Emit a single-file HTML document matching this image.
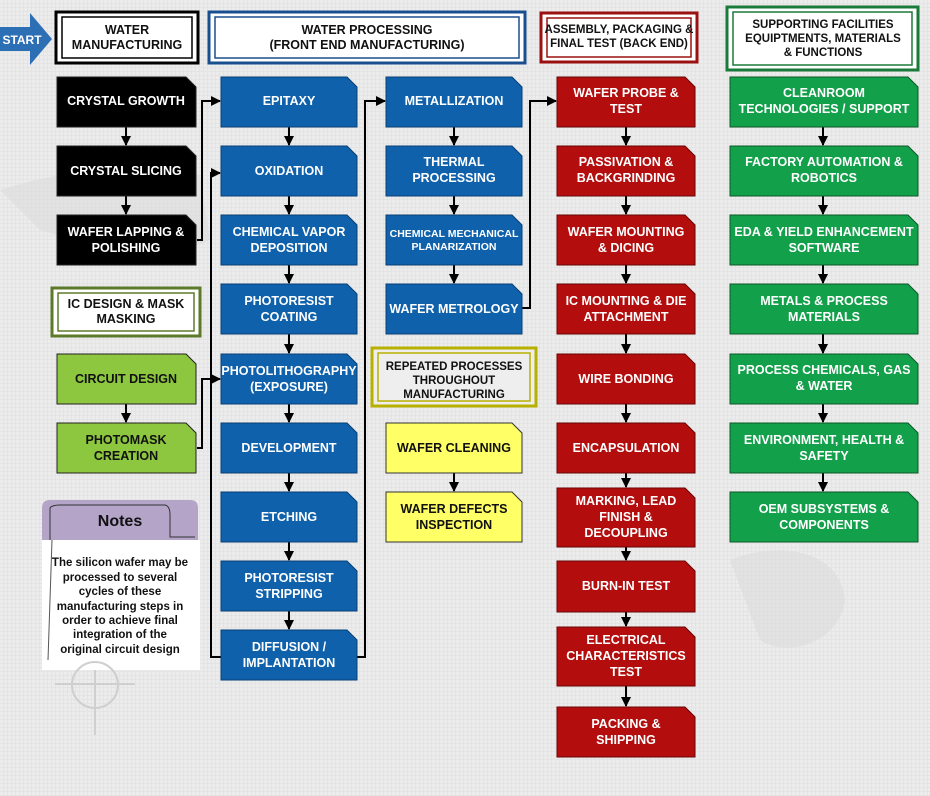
<!DOCTYPE html>
<html><head><meta charset="utf-8"><style>
html,body{margin:0;padding:0;width:930px;height:796px;overflow:hidden;background:#e6e6e6;}
svg{display:block;}
text{font-family:"Liberation Sans","DejaVu Sans",sans-serif;font-weight:bold;text-anchor:middle;}
.w{fill:#fff;font-size:12.5px;}
.k{fill:#111;font-size:12.5px;}
</style></head><body>
<svg width="930" height="796" viewBox="0 0 930 796" xmlns="http://www.w3.org/2000/svg">
<defs>
<pattern id="g" width="4" height="4" patternUnits="userSpaceOnUse"><rect width="4" height="4" fill="#e4e4e4"/><rect width="3" height="3" fill="#ececec"/></pattern>
<marker id="a" viewBox="0 0 10 10" refX="9" refY="5" markerWidth="5" markerHeight="5" orient="auto"><path d="M0,0 L10,5 L0,10 z" fill="#000"/></marker>
</defs>
<rect width="930" height="796" fill="url(#g)"/>
<g fill="#dcdcdc" opacity="0.6">
<path d="M0,190 C60,170 150,160 200,175 L210,240 C170,260 110,250 40,230 Z"/>
<path d="M730,560 C780,540 840,550 845,600 C840,640 790,660 760,640 Z"/>
</g>
<!-- START arrow -->
<path d="M0,27 L30,27 L30,13 L52,39 L30,65 L30,51 L0,51 Z" fill="#2d6fb5"/>
<text x="22" y="44" style="fill:#fff;font-size:12px">START</text>
<!-- headers -->
<g fill="#fff">
<rect x="56" y="12" width="142" height="51" stroke="#000" stroke-width="3"/>
<rect x="62" y="17" width="130" height="41" fill="none" stroke="#000" stroke-width="1.5"/>
<rect x="209" y="12" width="316" height="51" stroke="#1a4f8f" stroke-width="3"/>
<rect x="215" y="17" width="304" height="41" fill="none" stroke="#1a4f8f" stroke-width="1.5"/>
<rect x="541" y="13" width="156" height="49" stroke="#9b1010" stroke-width="3"/>
<rect x="547" y="18" width="144" height="39" fill="none" stroke="#9b1010" stroke-width="1.5"/>
<rect x="727" y="7" width="191" height="63" stroke="#1a7a3a" stroke-width="3"/>
<rect x="733" y="12" width="179" height="53" fill="none" stroke="#1a7a3a" stroke-width="1.5"/>
<rect x="52" y="288" width="148" height="48" stroke="#5d7a2a" stroke-width="3"/>
<rect x="58" y="293" width="136" height="38" fill="none" stroke="#5d7a2a" stroke-width="1.5"/>
<rect x="372" y="348" width="164" height="58" stroke="#b8b000" stroke-width="3" fill="#eeeeee"/>
<rect x="378" y="353" width="152" height="48" fill="none" stroke="#b8b000" stroke-width="1.5"/>
</g>
<text class="k" x="127" y="34">WATER</text>
<text class="k" x="127" y="49">MANUFACTURING</text>
<text class="k" x="367" y="34">WATER PROCESSING</text>
<text class="k" x="367" y="49">(FRONT END MANUFACTURING)</text>
<text class="k" x="619" y="33" style="font-size:11.5px">ASSEMBLY, PACKAGING &amp;</text>
<text class="k" x="619" y="47" style="font-size:11.5px">FINAL TEST (BACK END)</text>
<text class="k" x="823" y="28" style="font-size:11.5px">SUPPORTING FACILITIES</text>
<text class="k" x="823" y="42" style="font-size:11.5px">EQUIPTMENTS, MATERIALS</text>
<text class="k" x="823" y="56" style="font-size:11.5px">&amp; FUNCTIONS</text>
<text class="k" x="126" y="308">IC DESIGN &amp; MASK</text>
<text class="k" x="126" y="323">MASKING</text>
<text class="k" x="454" y="370" style="font-size:11.5px">REPEATED PROCESSES</text>
<text class="k" x="454" y="384" style="font-size:11.5px">THROUGHOUT</text>
<text class="k" x="454" y="398" style="font-size:11.5px">MANUFACTURING</text>

<g stroke="#000" stroke-width="2" fill="none">
<line x1="126" y1="127" x2="126" y2="145" marker-end="url(#a)"/>
<line x1="126" y1="196" x2="126" y2="214" marker-end="url(#a)"/>
<line x1="126" y1="404" x2="126" y2="422" marker-end="url(#a)"/>
<polyline points="197,240 202,240 202,101 220,101" marker-end="url(#a)"/>
<polyline points="221,657 211,657 211,173 220,173" marker-end="url(#a)"/>
<polyline points="197,448 202,448 202,379 220,379" marker-end="url(#a)"/>
<line x1="289" y1="127" x2="289" y2="145" marker-end="url(#a)"/>
<line x1="289" y1="196" x2="289" y2="214" marker-end="url(#a)"/>
<line x1="289" y1="265" x2="289" y2="283" marker-end="url(#a)"/>
<line x1="289" y1="334" x2="289" y2="353" marker-end="url(#a)"/>
<line x1="289" y1="404" x2="289" y2="422" marker-end="url(#a)"/>
<line x1="289" y1="473" x2="289" y2="491" marker-end="url(#a)"/>
<line x1="289" y1="542" x2="289" y2="560" marker-end="url(#a)"/>
<line x1="289" y1="611" x2="289" y2="629" marker-end="url(#a)"/>
<polyline points="357,657 365,657 365,101 385,101" marker-end="url(#a)"/>
<line x1="454" y1="127" x2="454" y2="145" marker-end="url(#a)"/>
<line x1="454" y1="196" x2="454" y2="214" marker-end="url(#a)"/>
<line x1="454" y1="265" x2="454" y2="283" marker-end="url(#a)"/>
<line x1="454" y1="473" x2="454" y2="491" marker-end="url(#a)"/>
<polyline points="522,308 530,308 530,101 556,101" marker-end="url(#a)"/>
<line x1="626" y1="127" x2="626" y2="145" marker-end="url(#a)"/>
<line x1="626" y1="196" x2="626" y2="214" marker-end="url(#a)"/>
<line x1="626" y1="265" x2="626" y2="283" marker-end="url(#a)"/>
<line x1="626" y1="334" x2="626" y2="353" marker-end="url(#a)"/>
<line x1="626" y1="404" x2="626" y2="422" marker-end="url(#a)"/>
<line x1="626" y1="473" x2="626" y2="487" marker-end="url(#a)"/>
<line x1="626" y1="547" x2="626" y2="560" marker-end="url(#a)"/>
<line x1="626" y1="612" x2="626" y2="626" marker-end="url(#a)"/>
<line x1="626" y1="686" x2="626" y2="706" marker-end="url(#a)"/>
<line x1="823" y1="127" x2="823" y2="145" marker-end="url(#a)"/>
<line x1="823" y1="196" x2="823" y2="214" marker-end="url(#a)"/>
<line x1="823" y1="265" x2="823" y2="283" marker-end="url(#a)"/>
<line x1="823" y1="334" x2="823" y2="353" marker-end="url(#a)"/>
<line x1="823" y1="404" x2="823" y2="422" marker-end="url(#a)"/>
<line x1="823" y1="473" x2="823" y2="491" marker-end="url(#a)"/>
</g>

<g stroke="#222" stroke-width="1">
<polygon fill="#000" points="57,77 186,77 196,87 196,127 57,127"/>
<polygon fill="#000" points="57,146 186,146 196,156 196,196 57,196"/>
<polygon fill="#000" points="57,215 186,215 196,225 196,265 57,265"/>
<polygon fill="#8dc63f" points="57,354 186,354 196,364 196,404 57,404"/>
<polygon fill="#8dc63f" points="57,423 186,423 196,433 196,473 57,473"/>
</g>
<text class="w" x="126" y="105">CRYSTAL GROWTH</text>
<text class="w" x="126" y="175">CRYSTAL SLICING</text>
<text class="w" x="126" y="236">WAFER LAPPING &amp;</text>
<text class="w" x="126" y="252">POLISHING</text>
<text class="k" x="126" y="383">CIRCUIT DESIGN</text>
<text class="k" x="126" y="444">PHOTOMASK</text>
<text class="k" x="126" y="460">CREATION</text>

<path d="M42,540 L42,508 Q42,500 50,500 L190,500 Q198,500 198,508 L198,540 Z" fill="#b3a4c8"/>
<path d="M50,540 L50,508 Q52,505 60,505 L165,505 Q170,506 170,515 L170,537 L195,537" fill="none" stroke="#333" stroke-width="1"/>
<rect x="42" y="540" width="158" height="130" fill="#fff"/>
<path d="M52,540 L48,660" stroke="#555" stroke-width="1" fill="none"/>
<text x="120" y="526" style="font-size:16px;fill:#111">Notes</text>
<g style="font-size:11.5px;fill:#111">
<text x="120" y="566">The silicon wafer may be</text>
<text x="120" y="581">processed to several</text>
<text x="120" y="595">cycles of these</text>
<text x="120" y="610">manufacturing steps in</text>
<text x="120" y="624">order to achieve final</text>
<text x="120" y="638">integration of the</text>
<text x="120" y="653">original circuit design</text>
</g>

<g fill="#0f61ab" stroke="#0a3f73" stroke-width="1">
<polygon points="221,77 347,77 357,87 357,127 221,127"/>
<polygon points="221,146 347,146 357,156 357,196 221,196"/>
<polygon points="221,215 347,215 357,225 357,265 221,265"/>
<polygon points="221,284 347,284 357,294 357,334 221,334"/>
<polygon points="221,354 347,354 357,364 357,404 221,404"/>
<polygon points="221,423 347,423 357,433 357,473 221,473"/>
<polygon points="221,492 347,492 357,502 357,542 221,542"/>
<polygon points="221,561 347,561 357,571 357,611 221,611"/>
<polygon points="221,630 347,630 357,640 357,680 221,680"/>
<polygon points="386,77 512,77 522,87 522,127 386,127"/>
<polygon points="386,146 512,146 522,156 522,196 386,196"/>
<polygon points="386,215 512,215 522,225 522,265 386,265"/>
<polygon points="386,284 512,284 522,294 522,334 386,334"/>
</g>
<text class="w" x="289" y="105">EPITAXY</text>
<text class="w" x="289" y="175">OXIDATION</text>
<text class="w" x="289" y="236">CHEMICAL VAPOR</text>
<text class="w" x="289" y="252">DEPOSITION</text>
<text class="w" x="289" y="305">PHOTORESIST</text>
<text class="w" x="289" y="321">COATING</text>
<text class="w" x="289" y="375">PHOTOLITHOGRAPHY</text>
<text class="w" x="289" y="391">(EXPOSURE)</text>
<text class="w" x="289" y="452">DEVELOPMENT</text>
<text class="w" x="289" y="521">ETCHING</text>
<text class="w" x="289" y="582">PHOTORESIST</text>
<text class="w" x="289" y="598">STRIPPING</text>
<text class="w" x="289" y="651">DIFFUSION /</text>
<text class="w" x="289" y="667">IMPLANTATION</text>
<text class="w" x="454" y="105">METALLIZATION</text>
<text class="w" x="454" y="166">THERMAL</text>
<text class="w" x="454" y="182">PROCESSING</text>
<text class="w" x="454" y="237" style="font-size:10.5px">CHEMICAL MECHANICAL</text>
<text class="w" x="454" y="250" style="font-size:10.5px">PLANARIZATION</text>
<text class="w" x="454" y="313">WAFER METROLOGY</text>
<g fill="#ffff66" stroke="#333" stroke-width="1">
<polygon points="386,423 512,423 522,433 522,473 386,473"/>
<polygon points="386,492 512,492 522,502 522,542 386,542"/>
</g>
<text class="k" x="454" y="452">WAFER CLEANING</text>
<text class="k" x="454" y="513">WAFER DEFECTS</text>
<text class="k" x="454" y="529">INSPECTION</text>

<g fill="#b30d0d" stroke="#6a0505" stroke-width="1">
<polygon points="557,77 685,77 695,87 695,127 557,127"/>
<polygon points="557,146 685,146 695,156 695,196 557,196"/>
<polygon points="557,215 685,215 695,225 695,265 557,265"/>
<polygon points="557,284 685,284 695,294 695,334 557,334"/>
<polygon points="557,354 685,354 695,364 695,404 557,404"/>
<polygon points="557,423 685,423 695,433 695,473 557,473"/>
<polygon points="557,488 685,488 695,498 695,547 557,547"/>
<polygon points="557,561 685,561 695,571 695,612 557,612"/>
<polygon points="557,627 685,627 695,637 695,686 557,686"/>
<polygon points="557,707 685,707 695,717 695,757 557,757"/>
</g>
<text class="w" x="626" y="97">WAFER PROBE &amp;</text>
<text class="w" x="626" y="113">TEST</text>
<text class="w" x="626" y="166">PASSIVATION &amp;</text>
<text class="w" x="626" y="182">BACKGRINDING</text>
<text class="w" x="626" y="236">WAFER MOUNTING</text>
<text class="w" x="626" y="252">&amp; DICING</text>
<text class="w" x="626" y="305">IC MOUNTING &amp; DIE</text>
<text class="w" x="626" y="321">ATTACHMENT</text>
<text class="w" x="626" y="383">WIRE BONDING</text>
<text class="w" x="626" y="452">ENCAPSULATION</text>
<text class="w" x="626" y="505">MARKING, LEAD</text>
<text class="w" x="626" y="521">FINISH &amp;</text>
<text class="w" x="626" y="537">DECOUPLING</text>
<text class="w" x="626" y="590">BURN-IN TEST</text>
<text class="w" x="626" y="644">ELECTRICAL</text>
<text class="w" x="626" y="660">CHARACTERISTICS</text>
<text class="w" x="626" y="676">TEST</text>
<text class="w" x="626" y="728">PACKING &amp;</text>
<text class="w" x="626" y="744">SHIPPING</text>

<g fill="#13a04a" stroke="#0b5a28" stroke-width="1">
<polygon points="730,77 908,77 918,87 918,127 730,127"/>
<polygon points="730,146 908,146 918,156 918,196 730,196"/>
<polygon points="730,215 908,215 918,225 918,265 730,265"/>
<polygon points="730,284 908,284 918,294 918,334 730,334"/>
<polygon points="730,354 908,354 918,364 918,404 730,404"/>
<polygon points="730,423 908,423 918,433 918,473 730,473"/>
<polygon points="730,492 908,492 918,502 918,542 730,542"/>
</g>
<text class="w" x="824" y="97">CLEANROOM</text>
<text class="w" x="824" y="113">TECHNOLOGIES / SUPPORT</text>
<text class="w" x="824" y="166">FACTORY AUTOMATION &amp;</text>
<text class="w" x="824" y="182">ROBOTICS</text>
<text class="w" x="824" y="236">EDA &amp; YIELD ENHANCEMENT</text>
<text class="w" x="824" y="252">SOFTWARE</text>
<text class="w" x="824" y="305">METALS &amp; PROCESS</text>
<text class="w" x="824" y="321">MATERIALS</text>
<text class="w" x="824" y="374">PROCESS CHEMICALS, GAS</text>
<text class="w" x="824" y="390">&amp; WATER</text>
<text class="w" x="824" y="444">ENVIRONMENT, HEALTH &amp;</text>
<text class="w" x="824" y="460">SAFETY</text>
<text class="w" x="824" y="513">OEM SUBSYSTEMS &amp;</text>
<text class="w" x="824" y="529">COMPONENTS</text>

<g fill="none" stroke="#cfcfcf" stroke-width="2">
<circle cx="95" cy="685" r="23"/>
<path d="M55,684 L135,684 M95,670 L95,735"/>
</g>
</svg>
</body></html>
